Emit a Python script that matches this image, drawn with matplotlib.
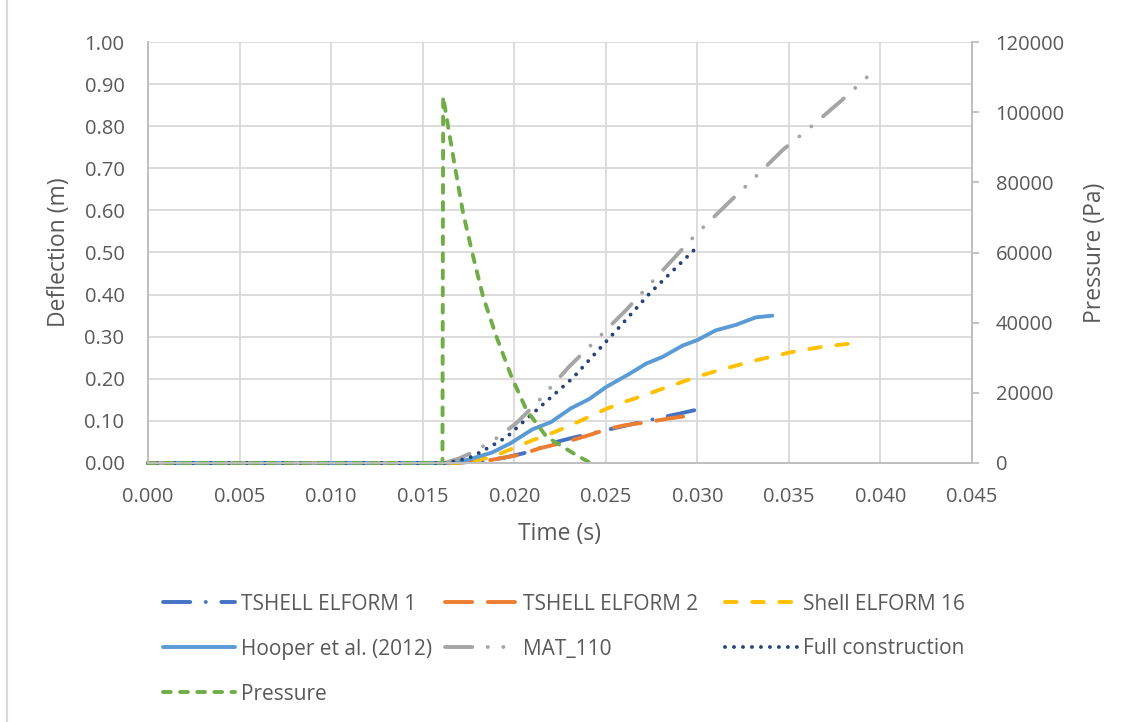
import matplotlib
matplotlib.use('Agg')
import matplotlib.pyplot as plt
from matplotlib.lines import Line2D
from matplotlib.ticker import FormatStrFormatter, MultipleLocator

# Deflection curves (time in s, deflection in m)
t_ts1 = [0.0, 0.0162, 0.0170, 0.0180, 0.0187, 0.0195, 0.0205, 0.0214, 0.0223, 0.0232,
         0.0240, 0.0250, 0.0260, 0.0270, 0.0280, 0.0290, 0.0300]
d_ts1 = [0.0, 0.0, 0.001, 0.004, 0.007, 0.013, 0.023, 0.036, 0.050, 0.060,
         0.068, 0.078, 0.088, 0.098, 0.108, 0.117, 0.127]

t_ts2 = [0.0, 0.0162, 0.0170, 0.0180, 0.0187, 0.0200, 0.0205, 0.0214, 0.0228, 0.0240,
         0.0252, 0.0261, 0.0274, 0.0285, 0.0300]
d_ts2 = [0.0, 0.0, 0.001, 0.004, 0.007, 0.017, 0.022, 0.035, 0.050, 0.065,
         0.082, 0.090, 0.098, 0.106, 0.115]

t_sh16 = [0.0, 0.0163, 0.0170, 0.0180, 0.0190, 0.0200, 0.0210, 0.0220, 0.0230, 0.0240,
          0.0250, 0.0260, 0.0270, 0.0280, 0.0290, 0.0300, 0.0310, 0.0320, 0.0330,
          0.0340, 0.0350, 0.0360, 0.0370, 0.0380, 0.0390]
d_sh16 = [0.0, 0.0, 0.001, 0.006, 0.018, 0.036, 0.054, 0.070, 0.088, 0.108,
          0.128, 0.145, 0.159, 0.175, 0.190, 0.205, 0.218, 0.230, 0.242,
          0.252, 0.262, 0.270, 0.277, 0.282, 0.286]

t_hooper = [0.0, 0.0163, 0.0175, 0.0188, 0.0198, 0.0210, 0.0220, 0.0231, 0.0241, 0.0250,
            0.0263, 0.0272, 0.0281, 0.0292, 0.0300, 0.0310, 0.0321, 0.0332, 0.0341]
d_hooper = [0.0, 0.0, 0.008, 0.025, 0.047, 0.080, 0.097, 0.130, 0.152, 0.180,
            0.212, 0.236, 0.252, 0.279, 0.292, 0.315, 0.328, 0.346, 0.350]

t_mat110 = [0.0, 0.0162, 0.0170, 0.0178, 0.0190, 0.0201, 0.0213, 0.0230, 0.0241, 0.0261,
            0.0288, 0.0299, 0.0317, 0.0329, 0.0347, 0.0360, 0.0379, 0.0391, 0.0397]
d_mat110 = [0.0, 0.0, 0.011, 0.027, 0.058, 0.094, 0.146, 0.229, 0.276, 0.363,
            0.490, 0.542, 0.618, 0.668, 0.745, 0.791, 0.862, 0.910, 0.934]

t_full = [0.0, 0.0162, 0.0170, 0.0177, 0.0187, 0.0196, 0.0205, 0.0232, 0.0256, 0.0274, 0.0298]
d_full = [0.0, 0.0, 0.006, 0.015, 0.039, 0.062, 0.098, 0.202, 0.316, 0.403, 0.505]

# Pressure (Pa)
t_pres = [0.0, 0.01608, 0.01612, 0.01639, 0.01676, 0.01721, 0.01776, 0.01830, 0.01903,
          0.01985, 0.02067, 0.02176, 0.02322, 0.02430]
p_pres = [0, 0, 104400, 95900, 84500, 71200, 58800, 47400, 36000,
          24600, 15100, 7500, 2800, -400]

labels = ['TSHELL ELFORM 1', 'TSHELL ELFORM 2', 'Shell ELFORM 16',
          'Hooper et al. (2012)', 'MAT_110', 'Full construction', 'Pressure']

plt.rcParams['font.family'] = ['Open Sans', 'DejaVu Sans']
txt = '#595959'
grid = '#d9d9d9'
axc = '#bfbfbf'
W, H = 1134, 722

fig = plt.figure(figsize=(W / 100, H / 100), dpi=100)
ax = fig.add_axes([148 / W, 1 - 463 / H, 824 / W, 421 / H])
ax2 = ax.twinx()

lw = 2.8
common = dict(lw=lw, clip_on=False, dash_capstyle='round', solid_capstyle='round')
l1, = ax.plot(t_ts1, d_ts1, color='#4472C4', dashes=(7, 4, 0.01, 4), **common)
l2, = ax.plot(t_ts2, d_ts2, color='#ED7D31', dashes=(7, 4), **common)
l3, = ax.plot(t_sh16, d_sh16, color='#FFC000', dashes=(3, 4), **common)
l4, = ax.plot(t_hooper, d_hooper, color='#5B9BD5', **common)
l5, = ax.plot(t_mat110, d_mat110, color='#A5A5A5', dashes=(7, 4, 0.01, 4, 0.01, 4), **common)
l6, = ax.plot(t_full, d_full, color='#264478', dashes=(0.01, 2.3), **common)
l7, = ax2.plot(t_pres, p_pres, color='#70AD47', dashes=(2, 2.4), **common)

ax.set_xlim(0, 0.045)
ax.set_ylim(0, 1.0)
ax2.set_ylim(0, 120000)
ax.xaxis.set_major_locator(MultipleLocator(0.005))
ax.yaxis.set_major_locator(MultipleLocator(0.1))
ax2.yaxis.set_major_locator(MultipleLocator(20000))
ax.xaxis.set_major_formatter(FormatStrFormatter('%.3f'))
ax.yaxis.set_major_formatter(FormatStrFormatter('%.2f'))

ax.grid(True, color=grid, lw=1.3)
ax.set_axisbelow(True)
for a in (ax, ax2):
    a.spines['top'].set_visible(False)
    for s in ('left', 'right', 'bottom'):
        a.spines[s].set_color(axc)
        a.spines[s].set_linewidth(1.3)
ax.tick_params(axis='both', length=0, pad=17, labelsize=14.5, labelcolor=txt)
ax2.tick_params(axis='y', length=5, width=1.3, color=axc, pad=12,
                labelsize=14.5, labelcolor=txt)

ax.set_xlabel('Time (s)', fontsize=16.5, color=txt, va='center')
ax.xaxis.set_label_coords(0.5, (463 - 534) / 421)
ax.set_ylabel('Deflection (m)', fontsize=16.5, color=txt, va='center')
ax.yaxis.set_label_coords((59 - 148) / 824, 0.5)
ax2.set_ylabel('Pressure (Pa)', fontsize=16.5, color=txt, va='center', rotation=90)
ax2.yaxis.set_label_coords((1095 - 148) / 824, 0.5)

# legend laid out as an evenly spaced 3-column grid
col_x = [163, 445, 725]
row_y = [604, 649, 694]
handles = [l1, l2, l3, l4, l5, l6, l7]
for i, (h, lab) in enumerate(zip(handles, labels)):
    x = col_x[i % 3]
    y = row_y[i // 3]
    fig.legend([h], [lab], loc='center left', bbox_to_anchor=(x / W, 1 - y / H),
               bbox_transform=fig.transFigure, frameon=False, borderpad=0,
               borderaxespad=0, handlelength=3.46, handletextpad=0.29,
               fontsize=15, labelcolor=txt)

# chart area border (left edge only visible)
fig.add_artist(Line2D([7 / W, 7 / W], [0, 1], transform=fig.transFigure,
                      color=grid, lw=1.5))

fig.savefig('out.png', dpi=100)
